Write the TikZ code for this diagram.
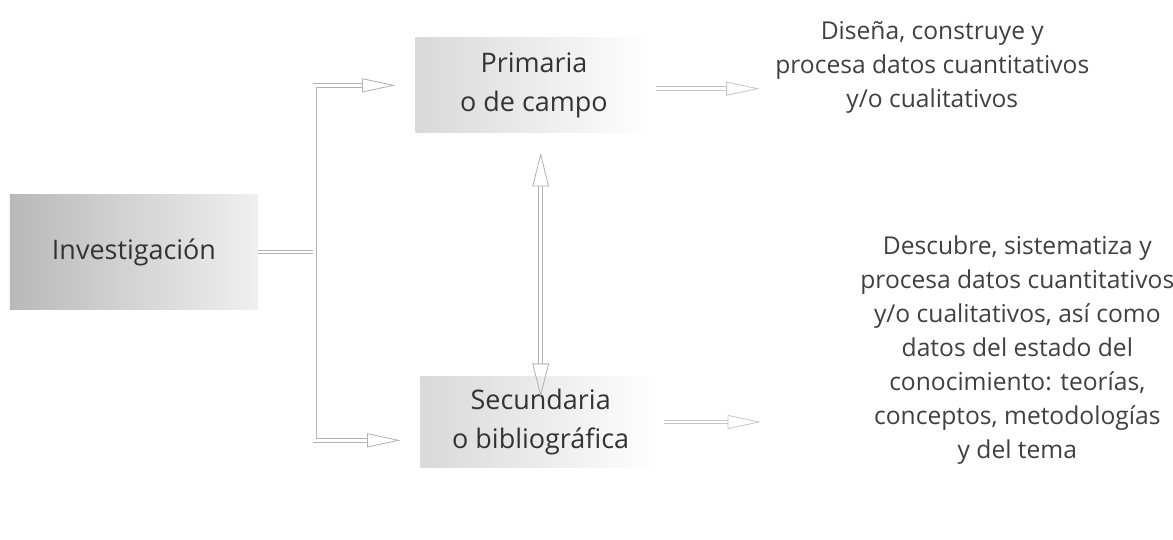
\documentclass[tikz,border=0pt]{standalone}
\usepackage{fontspec}
\setmainfont{Open Sans}
\usetikzlibrary{arrows.meta,positioning}

\tikzset{
  caja/.style={minimum width=#1, inner sep=0pt, align=center, text=black!80,
    font=\fontsize{23}{34}\selectfont},
  dbl/.style={draw=gray!60, line width=0.7pt, double=white, double distance=2.4pt,
    -{Triangle[open,length=1cm,width=0.42cm,line width=0.7pt]}},
  dbldos/.style={dbl, {Triangle[open,length=1cm,width=0.5cm,line width=0.7pt]}-{Triangle[open,length=1cm,width=0.5cm,line width=0.7pt]}},
  texto/.style={align=center, text=black!75, font=\fontsize{21}{29}\selectfont}
}

\begin{document}
\begin{tikzpicture}[node distance=2cm,on grid]
  \useasboundingbox (-4.02,7.56) rectangle (31.17,-8.64);
  \node[caja=7.44cm, minimum height=3.45cm, left color=gray!55, right color=gray!12] (inv) {Investigación};
  \node[caja=7.1cm, minimum height=2.85cm, left color=gray!30, right color=white] (prim) [above right=5cm and 12cm of inv] {Primaria\\o de campo};
  \node[caja=7.2cm, minimum height=2.7cm, left color=gray!30, right color=white] (sec) [below=10.1cm of prim, xshift=0.2cm] {Secundaria\\o bibliográfica};
  \node[texto] (primtxt) [above right=0.55cm and 11.95cm of prim] {Diseña, construye y\\procesa datos cuantitativos\\y/o cualitativos};
  \node[texto] (sectxt) [above right=2.16cm and 14.3cm of sec] {Descubre, sistematiza y\\procesa datos cuantitativos\\y/o cualitativos, así como\\datos del estado del\\conocimiento: teorías,\\conceptos, metodologías\\y del tema};
  \coordinate[right=1.7cm of inv.east] (fork);
  \coordinate[right=3cm of sec.east] (fin);

  % ramas
  \draw[dbl, -] (inv.east) -- (fork);
  \draw[dbl, shorten >=0.6cm] (fork) |- (prim.west);
  \draw[dbl, shorten >=0.6cm] (fork) |- ([yshift=-0.55cm]sec.west);
  \draw[dbldos, shorten <=0.6cm, shorten >=-0.6cm] (prim.south -| sec.north) -- (sec.north);
  \draw[dbl, draw=gray!45, shorten <=0.1cm, shorten >=0.35cm] ([yshift=-0.1cm]prim.east) -- ([yshift=-0.1cm]prim.east -| primtxt.west);
  \draw[dbl, draw=gray!45, shorten <=0.1cm] (sec.east) -- (fin);
\end{tikzpicture}
\end{document}
